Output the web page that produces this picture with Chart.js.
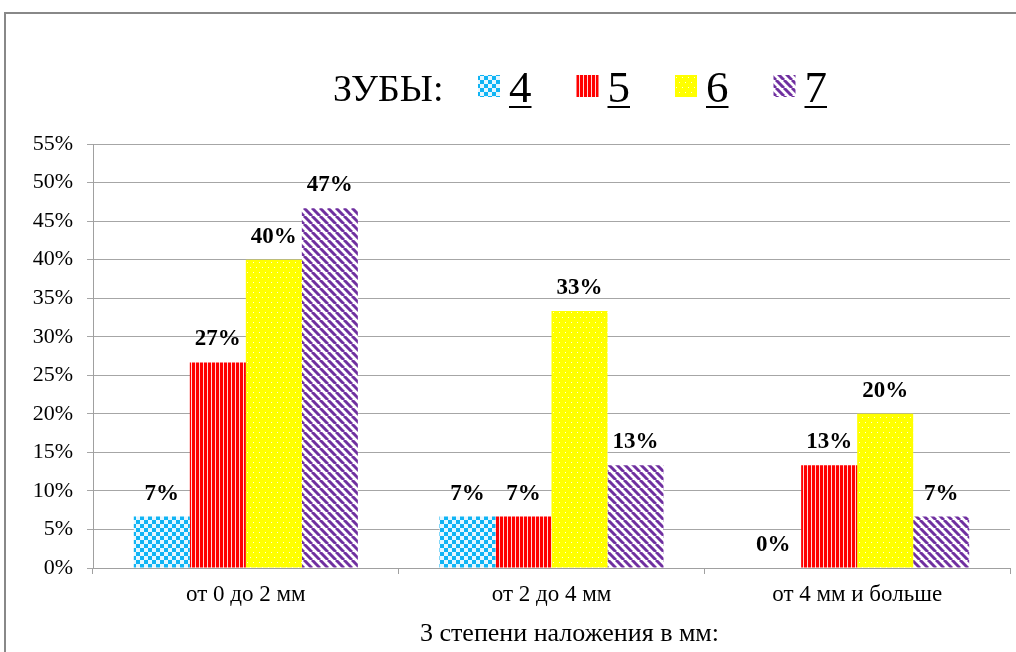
<!DOCTYPE html>
<html>
<head>
<meta charset="utf-8">
<script src="https://cdn.jsdelivr.net/npm/chart.js@4"></script>
<style>
  body { margin: 0; background: #fff; }
  #wrap { width: 1016px; height: 652px; position: relative; }
</style>
</head>
<body>
<div id="wrap"><canvas id="chart"></canvas></div>
<script>
const categories = ['от 0 до 2 мм', 'от 2 до 4 мм', 'от 4 мм и больше'];
const seriesNames = ['4', '5', '6', '7'];
const teeth4 = [6.67, 6.67, 0];
const teeth5 = [26.67, 6.67, 13.33];
const teeth6 = [40, 33.33, 20];
const teeth7 = [46.67, 13.33, 6.67];
const yTicks = [0, 5, 10, 15, 20, 25, 30, 35, 40, 45, 50, 55];
const legendPrefix = 'ЗУБЫ:';
const xTitle = '3 степени наложения в мм:';

const SERIF = '"Liberation Serif", "Times New Roman", serif';

function makePattern(kind) {
    const c = document.createElement('canvas');
    const g = c.getContext('2d');
    if (kind === 'check') {
        c.width = 8; c.height = 8;
        g.fillStyle = '#e6f7ff'; g.fillRect(0, 0, 8, 8);
        g.fillStyle = '#10b4f4';
        g.fillRect(0, 0, 4, 4); g.fillRect(4, 4, 4, 4);
    } else if (kind === 'vstripe') {
        c.width = 4; c.height = 4;
        g.fillStyle = '#ffd8d8'; g.fillRect(0, 0, 4, 4);
        g.fillStyle = '#ff0000'; g.fillRect(0, 0, 3, 4);
    } else if (kind === 'dots') {
        c.width = 6; c.height = 10;
        g.fillStyle = '#ffff00'; g.fillRect(0, 0, 6, 10);
        g.fillStyle = '#fffce0';
        g.fillRect(1, 2, 1, 1); g.fillRect(4, 7, 1, 1);
    } else {
        c.width = 8; c.height = 8;
        g.fillStyle = '#fff'; g.fillRect(0, 0, 8, 8);
        g.strokeStyle = '#7030a0'; g.lineWidth = 3;
        for (let k = -8; k <= 16; k += 8) {
            g.beginPath(); g.moveTo(k, 0); g.lineTo(k + 8, 8); g.stroke();
        }
    }
    const ctx = document.createElement('canvas').getContext('2d');
    return ctx.createPattern(c, 'repeat');
}

const fills = [makePattern('check'), makePattern('vstripe'), makePattern('dots'), makePattern('diag')];
const allValues = [teeth4, teeth5, teeth6, teeth7];

const frame = {
    id: 'frame',
    beforeDraw(chart) {
        const ctx = chart.ctx;
        ctx.save();
        ctx.fillStyle = '#fff';
        ctx.fillRect(0, 0, chart.width, chart.height);
        ctx.strokeStyle = '#888';
        ctx.lineWidth = 2;
        ctx.strokeRect(5, 13, chart.width + 20, chart.height + 20);
        ctx.restore();
    }
};

const valueLabels = {
    id: 'valueLabels',
    afterDatasetsDraw(chart) {
        const ctx = chart.ctx;
        ctx.save();
        ctx.font = 'bold 23px ' + SERIF;
        ctx.fillStyle = '#000';
        ctx.textAlign = 'center';
        ctx.textBaseline = 'middle';
        chart.data.datasets.forEach((ds, i) => {
            chart.getDatasetMeta(i).data.forEach((bar, j) => {
                ctx.fillText(Math.round(ds.data[j]) + '%', bar.x, bar.y - 23);
            });
        });
        ctx.restore();
    }
};

// x axis title sits a little right of the plot centre in the original
const axisTitle = {
    id: 'axisTitle',
    afterDraw(chart) {
        const ctx = chart.ctx;
        const area = chart.chartArea;
        ctx.save();
        ctx.font = '26px ' + SERIF;
        ctx.fillStyle = '#000';
        ctx.textAlign = 'center';
        ctx.textBaseline = 'middle';
        ctx.fillText(xTitle, (area.left + area.right) / 2 + 18, area.bottom + 66);
        ctx.restore();
    }
};

const topLegend = {
    id: 'topLegend',
    afterDraw(chart) {
        const ctx = chart.ctx;
        ctx.save();
        ctx.fillStyle = '#000';
        ctx.textBaseline = 'alphabetic';
        ctx.font = '38px ' + SERIF;
        ctx.fillText(legendPrefix, 333, 101);
        ctx.font = '45px ' + SERIF;
        seriesNames.forEach((name, i) => {
            const x = 478 + i * 98.5;
            ctx.fillStyle = fills[i];
            ctx.fillRect(x, 75, 22, 22);
            ctx.fillStyle = '#000';
            ctx.fillText(name, x + 31, 102);
            const w = ctx.measureText(name).width;
            ctx.fillRect(x + 31, 106, w, 2);
        });
        ctx.restore();
    }
};

new Chart(document.getElementById('chart'), {
    type: 'bar',
    data: {
        labels: categories,
        datasets: allValues.map((vals, i) => ({
            label: seriesNames[i],
            data: vals,
            backgroundColor: fills[i],
            borderWidth: 0,
            categoryPercentage: 0.733,
            barPercentage: 1
        }))
    },
    options: {
        responsive: true,
        maintainAspectRatio: false,
        animation: false,
        layout: { padding: { left: 0, right: 6, top: 144, bottom: 4 } },
        plugins: {
            legend: { display: false },
            tooltip: { enabled: false }
        },
        scales: {
            x: {
                afterFit(scale) { scale.height = 80; },
                grid: { display: true, drawOnChartArea: false, tickLength: 6, color: '#a0a0a0', offset: true },
                border: { color: '#a0a0a0' },
                ticks: { color: '#000', font: { family: SERIF, size: 23 }, padding: 7 }
            },
            y: {
                min: 0,
                max: 55,
                afterBuildTicks(scale) { scale.ticks = yTicks.map(v => ({ value: v })); },
                afterFit(scale) { scale.width = 93; },
                grid: { color: '#a6a6a6', tickLength: 6 },
                border: { color: '#a0a0a0' },
                ticks: {
                    color: '#000',
                    padding: 14,
                    font: { family: SERIF, size: 22 },
                    callback: v => v + '%'
                }
            }
        }
    },
    plugins: [frame, valueLabels, axisTitle, topLegend]
});
</script>
</body>
</html>
